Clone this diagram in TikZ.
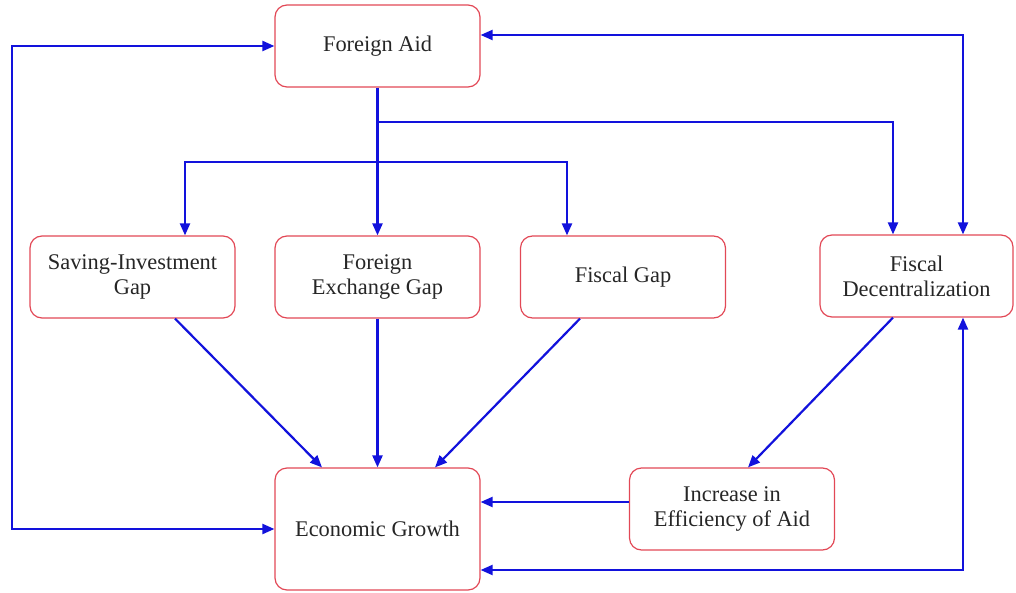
\documentclass[tikz,border=0pt]{standalone}
\usepackage{fontspec}
\setmainfont{Liberation Serif}
\usetikzlibrary{arrows.meta}
\definecolor{boxred}{RGB}{226,72,86}
\definecolor{flowblue}{RGB}{18,18,220}
\tikzset{
	box/.style={draw=boxred, line width=0.6pt, rounded corners=6pt, minimum width=102.5pt,
		minimum height=41pt, inner sep=2pt, align=center,
		font=\fontsize{11.2}{12.6}\selectfont, text=black!85},
	flow/.style={draw=flowblue, line width=1.1pt, -{Triangle[length=6pt,width=5pt]}},
	twoway/.style={flow, {Triangle[length=6pt,width=5pt]}-{Triangle[length=6pt,width=5pt]}}
}
\begin{document}
\begin{tikzpicture}[x=0.5pt,y=-0.5pt]
	\useasboundingbox (0,0) rectangle (1016,593);
	
	% the boxes
	\node[box] (aid) at (377.5,46) {Foreign Aid};
	\node[box] (sav) at (132.5,277) {Saving-Investment\\Gap};
	\node[box] (fex) at (377.5,277) {Foreign\\Exchange Gap};
	\node[box] (fis) at (623,277) {Fiscal Gap};
	\node[box,minimum width=96.5pt] (dec) at (916.5,276) {Fiscal\\Decentralization};
	\node[box] (eff) at (732,509) {Increase in\\Efficiency of Aid};
	\node[box,minimum height=61pt] (gro) at (377.5,529) {Economic Growth};
	
	% branching points and the outer loop
	\coordinate (j1) at (377.5,122);
	\coordinate (j2) at (377.5,162);
	\coordinate (left) at (12,0);
	
	% from foreign aid
	\draw[flow] (aid.south) -- (fex.north);
	\draw[flow] (j1) -| ([xshift=-11.75pt]dec.north);
	\draw[flow] (j2) -| ([xshift=26.25pt]sav.north);
	\draw[flow] (j2) -| ([xshift=-28pt]fis.north);
	
	% the gaps into growth
	\foreach \from/\a/\b in {sav/21.25/-27.75, fex/0/0, fis/-21.5/28.75}
	{
		\draw[flow] ([xshift=\a pt]\from.south) -- ([xshift=\b pt]gro.north);
	}
	
	% decentralization and efficiency
	\draw[flow] ([xshift=-11.75pt]dec.south) -- ([xshift=8pt]eff.north);
	\draw[flow] ([yshift=3.5pt]eff.west) -- ([yshift=3.5pt]eff.west -| gro.east);
	
	% feedback loops
	\draw[twoway] ([yshift=5.5pt]aid.east) -| ([xshift=23.25pt]dec.north);
	\draw[twoway] (aid.west) -- (aid.west -| left) -- (gro.west -| left) -- (gro.west);
	\draw[twoway] ([yshift=-20.5pt]gro.east) -| ([xshift=23.25pt]dec.south);
	
\end{tikzpicture}
\end{document}
